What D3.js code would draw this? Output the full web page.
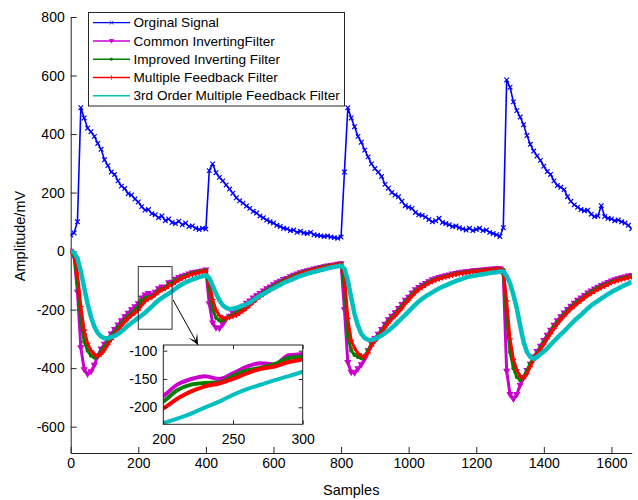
<!DOCTYPE html>
<html>
<head>
<meta charset="utf-8">
<script src="https://cdn.jsdelivr.net/npm/d3@7"></script>
<style>
  html, body { margin: 0; padding: 0; background: #fff; }
  svg text { font-family: "Liberation Sans", Arial, Helvetica, sans-serif; fill: #000; }
</style>
</head>
<body>
<div id="chart"></div>
<script>
// one value every 10 samples, 0..1660
const sampleStep = 10;

const original = [
  55, 62, 100, 490, 455, 420, 408, 392, 368, 348,
  312, 292, 270, 262, 240, 222, 214, 196, 192, 178,
  168, 152, 140, 142, 128, 124, 114, 120, 104, 110,
  98, 94, 102, 90, 96, 84, 86, 78, 74, 78,
  75, 275, 298, 268, 252, 240, 226, 212, 198, 182,
  172, 164, 154, 146, 136, 130, 120, 114, 106, 100,
  96, 88, 84, 78, 76, 70, 72, 64, 68, 62,
  60, 64, 56, 54, 52, 50, 52, 48, 46, 44,
  48, 270, 490, 455, 425, 392, 372, 345, 322, 298,
  282, 270, 255, 228, 215, 200, 192, 186, 170, 155,
  150, 146, 132, 124, 122, 116, 108, 100, 104, 112,
  98, 94, 90, 84, 86, 80, 76, 72, 78, 70,
  74, 78, 70, 72, 64, 60, 56, 50, 80, 585,
  560, 510, 480, 458, 432, 395, 365, 342, 325, 310,
  290, 272, 262, 240, 224, 218, 210, 186, 170, 158,
  150, 142, 138, 140, 126, 118, 120, 155, 118, 112,
  110, 104, 106, 100, 96, 88, 76
];

const commonInverting = [
  0, -20, -140, -330, -405, -420, -412, -390, -358, -334,
  -318, -300, -283, -268, -252, -238, -224, -212, -200, -190,
  -180, -160, -150, -145, -150, -140, -128, -122, -124, -108,
  -106, -96, -90, -86, -82, -78, -74, -72, -70, -68,
  -64, -180, -245, -262, -264, -250, -232, -222, -213, -206,
  -198, -188, -178, -170, -160, -152, -145, -136, -128, -122,
  -115, -108, -103, -97, -93, -87, -82, -78, -74, -70,
  -67, -64, -61, -58, -56, -53, -51, -49, -47, -45,
  -43, -200, -380, -414, -416, -402, -388, -368, -340, -316,
  -298, -284, -268, -250, -234, -222, -210, -196, -182, -168,
  -157, -143, -132, -124, -116, -110, -104, -98, -94, -90,
  -87, -84, -81, -78, -76, -74, -72, -70, -69, -67,
  -66, -65, -64, -63, -62, -61, -60, -60, -80, -410,
  -490, -506, -490, -458, -432, -408, -386, -362, -343, -325,
  -305, -287, -270, -253, -238, -224, -211, -199, -188, -178,
  -168, -160, -151, -143, -136, -129, -123, -117, -112, -107,
  -102, -98, -94, -91, -88, -85, -83
];

const improvedInverting = [
  0, -15, -110, -240, -310, -340, -357, -364, -360, -343,
  -326, -310, -292, -277, -262, -247, -234, -222, -212, -201,
  -190, -170, -160, -157, -156, -145, -135, -130, -124, -113,
  -110, -101, -95, -89, -84, -80, -76, -73, -70, -68,
  -66, -130, -200, -228, -237, -236, -230, -224, -218, -212,
  -204, -195, -186, -177, -167, -158, -150, -142, -134, -127,
  -120, -113, -107, -101, -96, -90, -85, -80, -76, -72,
  -68, -65, -62, -59, -57, -54, -52, -50, -48, -46,
  -44, -120, -290, -340, -355, -362, -366, -358, -340, -320,
  -303, -290, -274, -256, -240, -227, -216, -202, -189, -174,
  -162, -148, -137, -128, -120, -113, -107, -101, -97, -93,
  -89, -86, -83, -80, -78, -76, -74, -72, -71, -69,
  -68, -67, -66, -65, -64, -63, -62, -62, -64, -230,
  -345, -400, -430, -441, -430, -408, -385, -364, -349, -331,
  -312, -294, -276, -258, -243, -229, -216, -204, -192, -182,
  -173, -165, -156, -147, -139, -132, -126, -120, -115, -110,
  -105, -101, -97, -94, -91, -88, -86
];

const multipleFeedback = [
  0, -10, -75, -190, -270, -315, -340, -353, -360, -352,
  -338, -320, -302, -286, -272, -256, -242, -230, -220, -211,
  -202, -185, -172, -163, -158, -150, -140, -132, -128, -120,
  -115, -106, -99, -93, -88, -83, -79, -76, -73, -71,
  -68, -105, -165, -202, -220, -228, -230, -227, -223, -219,
  -212, -204, -195, -185, -175, -165, -156, -148, -140, -133,
  -125, -118, -111, -105, -99, -93, -88, -83, -78, -74,
  -70, -67, -64, -61, -59, -56, -54, -51, -49, -47,
  -45, -80, -230, -305, -332, -350, -358, -362, -348, -325,
  -308, -295, -280, -262, -246, -232, -222, -208, -195, -180,
  -168, -153, -142, -132, -124, -117, -110, -104, -99, -95,
  -91, -88, -85, -82, -79, -77, -76, -74, -72, -70,
  -69, -68, -67, -66, -65, -64, -64, -63, -65, -170,
  -300, -370, -405, -428, -435, -420, -395, -372, -355, -338,
  -318, -300, -282, -265, -250, -235, -222, -210, -198, -188,
  -178, -170, -160, -152, -145, -138, -131, -125, -120, -114,
  -108, -104, -100, -97, -94, -91, -88
];

const thirdOrderFeedback = [
  0, -5, -25, -70, -125, -180, -225, -258, -280, -292,
  -298, -298, -294, -290, -283, -275, -265, -254, -246, -237,
  -228, -220, -211, -200, -190, -178, -168, -160, -152, -145,
  -137, -128, -120, -113, -107, -102, -97, -93, -89, -86,
  -83, -92, -118, -145, -168, -185, -194, -198, -197, -194,
  -190, -186, -182, -176, -168, -160, -153, -147, -140, -133,
  -127, -121, -115, -109, -104, -99, -94, -89, -85, -81,
  -77, -74, -71, -68, -65, -62, -59, -56, -54, -52,
  -50, -60, -100, -160, -215, -255, -283, -297, -303, -304,
  -300, -295, -288, -280, -272, -262, -252, -240, -229, -218,
  -206, -194, -183, -172, -163, -155, -148, -141, -134, -128,
  -122, -117, -112, -107, -102, -98, -94, -90, -87, -85,
  -83, -81, -79, -77, -75, -73, -72, -70, -70, -85,
  -110, -150, -195, -255, -310, -345, -362, -368, -362, -352,
  -343, -333, -320, -308, -296, -285, -274, -262, -250, -238,
  -228, -218, -207, -196, -186, -178, -170, -162, -155, -147,
  -140, -134, -128, -122, -116, -111, -105
];

const seriesNames = ['Orginal Signal', 'Common InvertingFilter', 'Improved Inverting Filter',
  'Multiple Feedback Filter', '3rd Order Multiple Feedback Filter'];
const xTicks = [0, 200, 400, 600, 800, 1000, 1200, 1400, 1600];
const yTicks = [-600, -400, -200, 0, 200, 400, 600, 800];
const insetXTicks = [200, 250, 300];
const insetYTicks = [-200, -150, -100];

const samples = original.map((v, i) => i * sampleStep);

// look of each series (MATLAB-ish colours + markers)
const styles = [
  { color: '#0000ff', width: 1.6, marker: 'x' },
  { color: '#cc00cc', width: 3, marker: 'tri' },
  { color: '#008000', width: 3, marker: 'dot' },
  { color: '#ff0000', width: 3, marker: 'plus' },
  { color: '#00bfbf', width: 4.5, marker: null }
];
const markerPaths = {
  x: 'M-2.3,-2.3L2.3,2.3M-2.3,2.3L2.3,-2.3',
  tri: 'M-2.6,-1.8L2.6,-1.8L0,2.7Z',
  plus: 'M-2.8,0H2.8M0,-2.8V2.8',
  dot: 'M-1.5,0A1.5,1.5 0 1,0 1.5,0A1.5,1.5 0 1,0 -1.5,0Z'
};

const allSeries = [original, commonInverting, improvedInverting, multipleFeedback, thirdOrderFeedback]
  .map((vals, k) => ({ name: seriesNames[k], style: styles[k], points: vals.map((v, i) => [samples[i], v]) }));

const W = 638, H = 500;
const axisColor = '#262626';
const plainNum = d => String(d);

const svg = d3.select('#chart').append('svg').attr('width', W).attr('height', H);

const x = d3.scaleLinear().domain([0, 1660]).range([70.7, 631.7]);
const y = d3.scaleLinear().domain([-690, 800]).range([453, 17]);

// axes (box off, ticks inward)
const gx = svg.append('g').attr('transform', 'translate(0,453)')
  .call(d3.axisBottom(x).tickValues(xTicks).tickFormat(plainNum)
    .tickSizeInner(-6).tickSizeOuter(0).tickPadding(5));
const gy = svg.append('g').attr('transform', 'translate(70.7,0)')
  .call(d3.axisLeft(y).tickValues(yTicks).tickFormat(plainNum)
    .tickSizeInner(-6).tickSizeOuter(0).tickPadding(6));
[gx, gy].forEach(g => {
  g.select('.domain').attr('stroke', axisColor);
  g.selectAll('.tick line').attr('stroke', axisColor);
  g.selectAll('.tick text').attr('font-size', '14px').attr('fill', '#000')
    .style('font-family', '"Liberation Sans", Arial, sans-serif');
});

svg.append('text').attr('x', (70.7 + 631.7) / 2).attr('y', 495)
  .attr('text-anchor', 'middle').attr('font-size', '14.5px').text('Samples');
svg.append('text').attr('transform', 'translate(25,236) rotate(-90)')
  .attr('text-anchor', 'middle').attr('font-size', '14.5px').text('Amplitude/mV');

// lines
svg.append('clipPath').attr('id', 'plotclip').append('rect')
  .attr('x', 70.7).attr('y', 17).attr('width', 561).attr('height', 436);
const plot = svg.append('g').attr('clip-path', 'url(#plotclip)');
const line = d3.line().x(d => x(d[0])).y(d => y(d[1]));

allSeries.forEach(s => {
  plot.append('path').attr('d', line(s.points)).attr('fill', 'none')
    .attr('stroke', s.style.color).attr('stroke-width', s.style.width)
    .attr('stroke-linejoin', 'round');
  if (s.style.marker) {
    const filled = s.style.marker === 'tri' || s.style.marker === 'dot';
    plot.append('g').selectAll('path').data(s.points).enter().append('path')
      .attr('transform', d => `translate(${x(d[0])},${y(d[1])})`)
      .attr('d', markerPaths[s.style.marker])
      .attr('fill', filled ? s.style.color : 'none')
      .attr('stroke', s.style.color).attr('stroke-width', 1.2);
  }
});

// zoom rectangle + arrow
const zoomBox = { x0: 200, x1: 300, y0: -267, y1: -53 };
svg.append('rect').attr('x', x(zoomBox.x0)).attr('y', y(zoomBox.y1))
  .attr('width', x(zoomBox.x1) - x(zoomBox.x0)).attr('height', y(zoomBox.y0) - y(zoomBox.y1))
  .attr('fill', 'none').attr('stroke', '#333').attr('stroke-width', 1);

const arrowFrom = [303, -167], arrowTo = [377, -321];
svg.append('defs').append('marker').attr('id', 'head')
  .attr('viewBox', '-12 -6 14 12').attr('refX', 0).attr('refY', 0)
  .attr('markerWidth', 14).attr('markerHeight', 12).attr('markerUnits', 'userSpaceOnUse')
  .attr('orient', 'auto')
  .append('path').attr('d', 'M0,0L-11,-5L-5,0L-11,5Z').attr('fill', '#000');
svg.append('line')
  .attr('x1', x(arrowFrom[0])).attr('y1', y(arrowFrom[1]))
  .attr('x2', x(arrowTo[0])).attr('y2', y(arrowTo[1]))
  .attr('stroke', '#000').attr('stroke-width', 1).attr('marker-end', 'url(#head)');

// inset axes
const xi = d3.scaleLinear().domain([200, 300]).range([163.3, 302.7]);
const yi = d3.scaleLinear().domain([-230, -90]).range([424.3, 345]);
const inset = svg.append('g');
inset.append('rect').attr('x', 163.3).attr('y', 345).attr('width', 139.4).attr('height', 79.3)
  .attr('fill', '#fff');
inset.append('clipPath').attr('id', 'insetclip').append('rect')
  .attr('x', 163.3).attr('y', 345).attr('width', 139.4).attr('height', 79.3);
const insetLine = d3.line().x(d => xi(d[0])).y(d => yi(d[1])).curve(d3.curveMonotoneX);
const insetPlot = inset.append('g').attr('clip-path', 'url(#insetclip)');
allSeries.slice(1).forEach(s => {
  const pts = s.points.filter(d => d[0] >= 190 && d[0] <= 310);
  insetPlot.append('path').attr('d', insetLine(pts)).attr('fill', 'none')
    .attr('stroke', s.style.color).attr('stroke-width', 4).attr('stroke-linecap', 'round');
});
inset.append('rect').attr('x', 163.3).attr('y', 345).attr('width', 139.4).attr('height', 79.3)
  .attr('fill', 'none').attr('stroke', axisColor).attr('stroke-width', 1);

const ix = inset.append('g').attr('transform', 'translate(0,424.3)')
  .call(d3.axisBottom(xi).tickValues(insetXTicks).tickFormat(plainNum)
    .tickSizeInner(-4).tickSizeOuter(0).tickPadding(10));
const iy = inset.append('g').attr('transform', 'translate(163.3,0)')
  .call(d3.axisLeft(yi).tickValues(insetYTicks).tickFormat(plainNum)
    .tickSizeInner(-4).tickSizeOuter(0).tickPadding(6));
const ixTop = inset.append('g').attr('transform', 'translate(0,345)')
  .call(d3.axisTop(xi).tickValues(insetXTicks).tickSizeInner(-4).tickSizeOuter(0).tickFormat(''));
const iyRight = inset.append('g').attr('transform', 'translate(302.7,0)')
  .call(d3.axisRight(yi).tickValues(insetYTicks).tickSizeInner(-4).tickSizeOuter(0).tickFormat(''));
[ix, iy, ixTop, iyRight].forEach(g => {
  g.select('.domain').remove();
  g.selectAll('.tick line').attr('stroke', axisColor);
  g.selectAll('.tick text').attr('font-size', '14px').attr('fill', '#000')
    .style('font-family', '"Liberation Sans", Arial, sans-serif');
});

// legend
const legend = svg.append('g');
legend.append('rect').attr('x', 88.5).attr('y', 12.5).attr('width', 256).attr('height', 93.5)
  .attr('fill', '#fff').attr('stroke', axisColor).attr('stroke-width', 1);
allSeries.forEach((s, i) => {
  const ly = 22.7 + i * 18.25;
  legend.append('line').attr('x1', 93).attr('x2', 130).attr('y1', ly).attr('y2', ly)
    .attr('stroke', s.style.color).attr('stroke-width', i === 0 ? 1.2 : 1.6);
  if (s.style.marker) {
    const filled = s.style.marker === 'tri' || s.style.marker === 'dot';
    legend.append('path').attr('transform', `translate(111.5,${ly}) scale(0.8)`)
      .attr('d', markerPaths[s.style.marker])
      .attr('fill', filled ? s.style.color : 'none').attr('stroke', s.style.color);
  }
  legend.append('text').attr('x', 133.5).attr('y', ly).attr('dy', '0.35em')
    .attr('font-size', '13.6px').text(s.name);
});
</script>
</body>
</html>
